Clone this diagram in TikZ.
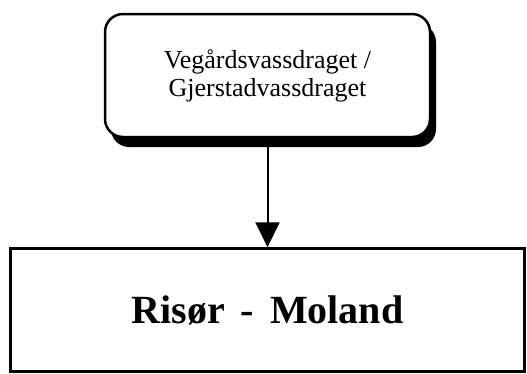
\documentclass[tikz,border=0pt]{standalone}
\usepackage{fontspec}
\setmainfont{Liberation Serif}
\usetikzlibrary{positioning,arrows.meta,shadows}

\begin{document}
\begin{tikzpicture}[x=1pt, y=-1pt, node distance=109pt,
    box/.style={draw, rectangle, line width=2.5pt, fill=white, minimum height=123pt}]
    \useasboundingbox (0,0) rectangle (527,373);
    % Vassdrag
    \node[box, rounded corners=18pt, minimum width=325pt, align=center, font=\fontsize{26}{28}\selectfont, drop shadow={fill=black, opacity=1, shadow xshift=6pt, shadow yshift=-10pt}] (vassdrag) at (267.5,75.5) {Vegårdsvassdraget /\\Gjerstadvassdraget};
    
    % Kommune
    \node[box, minimum width=514pt, font=\fontsize{40}{44}\selectfont\bfseries, below=of vassdrag] (kommune) {Risør\hspace{0.4em}-\hspace{0.4em}Moland};
    
    % Connections
    \draw[-{Triangle[width=24pt,length=25pt]}, line width=2pt] (vassdrag) -- (kommune);
\end{tikzpicture}
\end{document}
